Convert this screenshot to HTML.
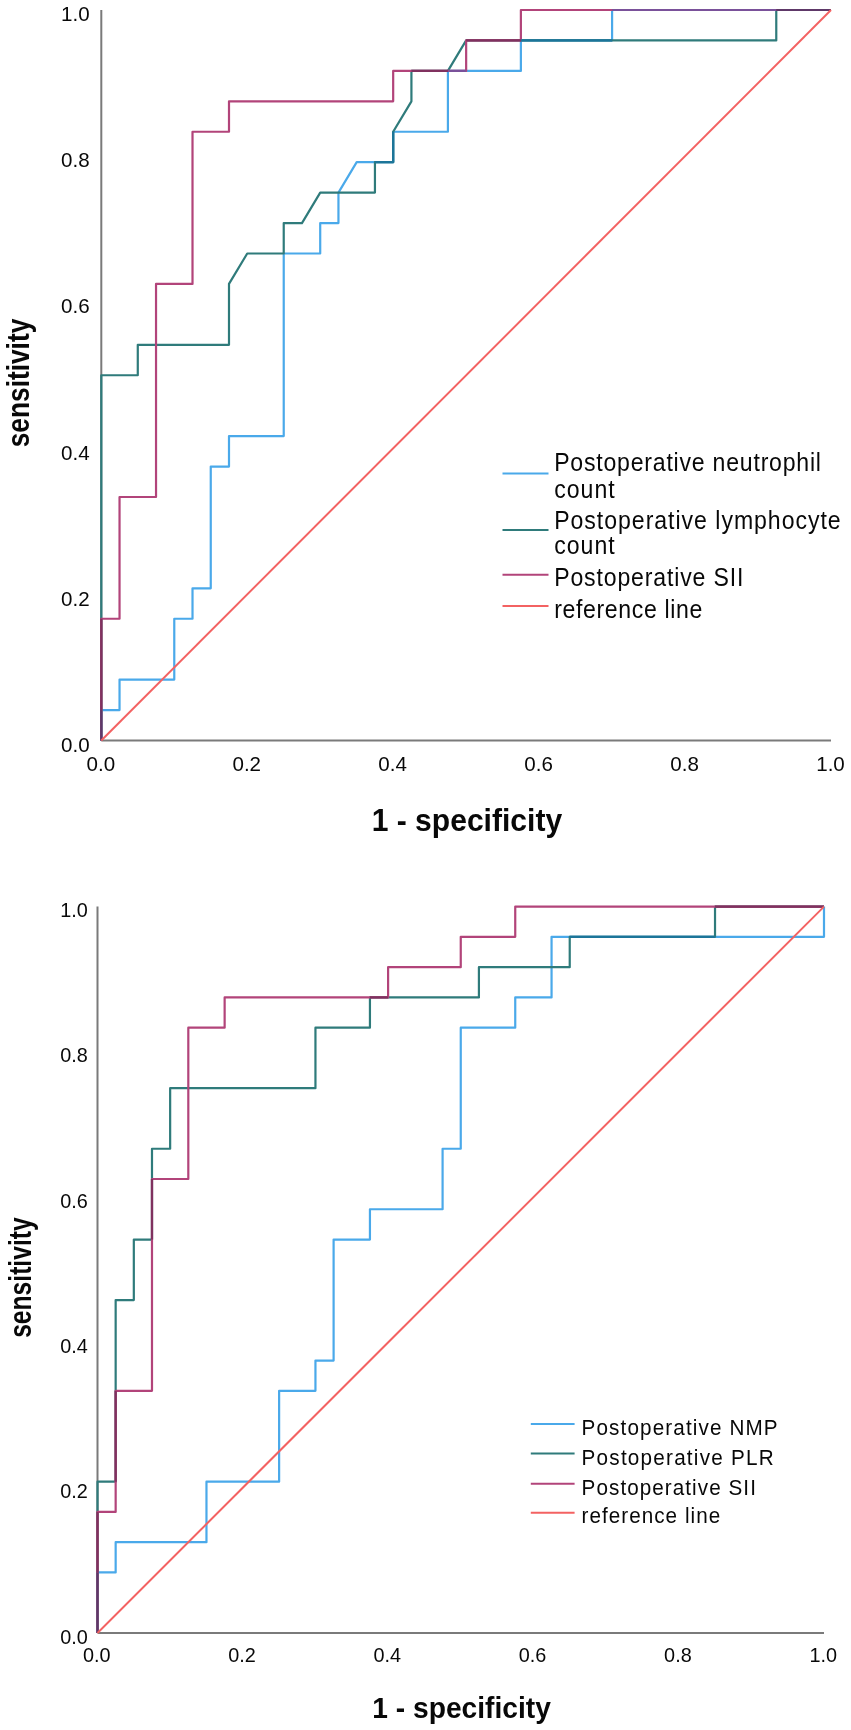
<!DOCTYPE html>
<html><head><meta charset="utf-8"><title>ROC curves</title>
<style>html,body{margin:0;padding:0;background:#fff;width:851px;height:1730px;overflow:hidden;font-family:"Liberation Sans", sans-serif;}
svg text{font-family:"Liberation Sans", sans-serif;}</style></head>
<body>
<svg width="851" height="1730" viewBox="0 0 851 1730" style="display:block;filter:blur(0.4px);font-family:'Liberation Sans', sans-serif;fill:#080808">
<rect width="851" height="1730" fill="#ffffff"/>
<line x1="101.30" y1="10.00" x2="101.30" y2="740.50" stroke="#7a7a7a" stroke-width="2.0"/>
<line x1="101.30" y1="740.50" x2="831.00" y2="740.50" stroke="#7a7a7a" stroke-width="2.0"/>
<text x="89.60" y="751.70" font-size="20.3" text-anchor="end" textLength="28.6" lengthAdjust="spacingAndGlyphs">0.0</text>
<text x="100.80" y="771.40" font-size="20.3" text-anchor="middle" textLength="28.6" lengthAdjust="spacingAndGlyphs">0.0</text>
<text x="89.60" y="605.60" font-size="20.3" text-anchor="end" textLength="28.6" lengthAdjust="spacingAndGlyphs">0.2</text>
<text x="246.74" y="771.40" font-size="20.3" text-anchor="middle" textLength="28.6" lengthAdjust="spacingAndGlyphs">0.2</text>
<text x="89.60" y="459.50" font-size="20.3" text-anchor="end" textLength="28.6" lengthAdjust="spacingAndGlyphs">0.4</text>
<text x="392.68" y="771.40" font-size="20.3" text-anchor="middle" textLength="28.6" lengthAdjust="spacingAndGlyphs">0.4</text>
<text x="89.60" y="313.40" font-size="20.3" text-anchor="end" textLength="28.6" lengthAdjust="spacingAndGlyphs">0.6</text>
<text x="538.62" y="771.40" font-size="20.3" text-anchor="middle" textLength="28.6" lengthAdjust="spacingAndGlyphs">0.6</text>
<text x="89.60" y="167.30" font-size="20.3" text-anchor="end" textLength="28.6" lengthAdjust="spacingAndGlyphs">0.8</text>
<text x="684.56" y="771.40" font-size="20.3" text-anchor="middle" textLength="28.6" lengthAdjust="spacingAndGlyphs">0.8</text>
<text x="89.60" y="21.20" font-size="20.3" text-anchor="end" textLength="28.6" lengthAdjust="spacingAndGlyphs">1.0</text>
<text x="830.50" y="771.40" font-size="20.3" text-anchor="middle" textLength="28.6" lengthAdjust="spacingAndGlyphs">1.0</text>
<text x="466.90" y="831.20" font-size="30.5" font-weight="bold" text-anchor="middle" textLength="190.5" lengthAdjust="spacingAndGlyphs">1 - specificity</text>
<text transform="translate(29.00,383.00) rotate(-90)" font-size="31" font-weight="bold" text-anchor="middle" textLength="128.5" lengthAdjust="spacingAndGlyphs">sensitivity</text>
<path d="M101.30,740.50 L101.30,710.06 L119.54,710.06 L119.54,679.62 L174.27,679.62 L174.27,618.75 L192.51,618.75 L192.51,588.31 L210.75,588.31 L210.75,466.56 L229.00,466.56 L229.00,436.12 L283.73,436.12 L283.73,253.50 L320.21,253.50 L320.21,223.06 L338.45,223.06 L338.45,192.62 L356.70,162.19 L393.18,162.19 L393.18,131.75 L447.91,131.75 L447.91,70.88 L520.88,70.88 L520.88,40.44 L612.09,40.44 L612.09,10.00 L831.00,10.00" fill="none" stroke="#4aa9ea" stroke-width="2.2" stroke-linejoin="round"/>
<path d="M101.30,740.50 L101.30,375.25 L137.78,375.25 L137.78,344.81 L229.00,344.81 L229.00,283.94 L247.24,253.50 L283.73,253.50 L283.73,223.06 L301.97,223.06 L320.21,192.62 L374.94,192.62 L374.94,162.19 L393.18,162.19 L393.18,131.75 L411.42,101.31 L411.42,70.88 L447.91,70.88 L466.15,40.44 L776.27,40.44 L776.27,10.00 L831.00,10.00" fill="none" stroke="#2f7b7b" stroke-width="2.2" stroke-linejoin="round"/>
<path d="M101.30,740.50 L101.30,618.75 L119.54,618.75 L119.54,497.00 L156.03,497.00 L156.03,283.94 L192.51,283.94 L192.51,131.75 L229.00,131.75 L229.00,101.31 L393.18,101.31 L393.18,70.88 L466.15,70.88 L466.15,40.44 L520.88,40.44 L520.88,10.00 L831.00,10.00" fill="none" stroke="#b2447a" stroke-width="2.2" stroke-linejoin="round"/>
<path d="M101.30,740.50 L101.30,710.06" fill="none" stroke="#5e3868" stroke-width="2.2" stroke-linejoin="round"/>
<path d="M374.94,162.19 L393.18,162.19 L393.18,131.75" fill="none" stroke="#1c7599" stroke-width="2.2" stroke-linejoin="round"/>
<path d="M447.91,70.88 L466.15,70.88" fill="none" stroke="#7a519a" stroke-width="2.2" stroke-linejoin="round"/>
<path d="M520.88,40.44 L539.12,40.44 L557.36,40.44 L575.61,40.44 L593.85,40.44 L612.09,40.44" fill="none" stroke="#1c7599" stroke-width="2.2" stroke-linejoin="round"/>
<path d="M612.09,10.00 L630.33,10.00 L648.57,10.00 L666.82,10.00 L685.06,10.00 L703.30,10.00 L721.55,10.00 L739.79,10.00 L758.03,10.00 L776.27,10.00" fill="none" stroke="#7a519a" stroke-width="2.2" stroke-linejoin="round"/>
<path d="M776.27,10.00 L794.51,10.00 L812.76,10.00 L831.00,10.00" fill="none" stroke="#5e3868" stroke-width="2.2" stroke-linejoin="round"/>
<path d="M101.30,710.06 L101.30,679.62 L101.30,649.19 L101.30,618.75" fill="none" stroke="#80315f" stroke-width="2.2" stroke-linejoin="round"/>
<path d="M411.42,70.88 L429.67,70.88 L447.91,70.88" fill="none" stroke="#80315f" stroke-width="2.2" stroke-linejoin="round"/>
<path d="M466.15,40.44 L484.39,40.44 L502.64,40.44 L520.88,40.44" fill="none" stroke="#80315f" stroke-width="2.2" stroke-linejoin="round"/>
<line x1="101.30" y1="740.50" x2="831.00" y2="10.00" stroke="#f36262" stroke-width="2.0"/>
<line x1="502.50" y1="473.40" x2="548.50" y2="473.40" stroke="#4aa9ea" stroke-width="2.0"/>
<text transform="translate(554.20,471.40) scale(0.915,1)" font-size="25.2" textLength="291.58" lengthAdjust="spacing">Postoperative neutrophil</text>
<text transform="translate(554.20,498.30) scale(0.915,1)" font-size="25.2" textLength="66.12" lengthAdjust="spacing">count</text>
<line x1="502.50" y1="529.90" x2="548.50" y2="529.90" stroke="#2f7b7b" stroke-width="2.0"/>
<text transform="translate(554.20,529.00) scale(0.915,1)" font-size="25.2" textLength="313.11" lengthAdjust="spacing">Postoperative lymphocyte</text>
<text transform="translate(554.20,554.40) scale(0.915,1)" font-size="25.2" textLength="66.12" lengthAdjust="spacing">count</text>
<line x1="502.50" y1="574.70" x2="548.50" y2="574.70" stroke="#b2447a" stroke-width="2.0"/>
<text transform="translate(554.20,586.20) scale(0.915,1)" font-size="25.2" textLength="206.78" lengthAdjust="spacing">Postoperative SII</text>
<line x1="502.50" y1="605.90" x2="548.50" y2="605.90" stroke="#f36262" stroke-width="2.0"/>
<text transform="translate(554.20,617.60) scale(0.915,1)" font-size="25.2" textLength="161.97" lengthAdjust="spacing">reference line</text>
<line x1="97.50" y1="906.60" x2="97.50" y2="1633.00" stroke="#7a7a7a" stroke-width="2.0"/>
<line x1="97.50" y1="1633.00" x2="824.00" y2="1633.00" stroke="#7a7a7a" stroke-width="2.0"/>
<text x="87.80" y="1643.60" font-size="20.3" text-anchor="end" textLength="27.6" lengthAdjust="spacingAndGlyphs">0.0</text>
<text x="96.70" y="1662.20" font-size="20.3" text-anchor="middle" textLength="27.6" lengthAdjust="spacingAndGlyphs">0.0</text>
<text x="87.80" y="1498.32" font-size="20.3" text-anchor="end" textLength="27.6" lengthAdjust="spacingAndGlyphs">0.2</text>
<text x="242.00" y="1662.20" font-size="20.3" text-anchor="middle" textLength="27.6" lengthAdjust="spacingAndGlyphs">0.2</text>
<text x="87.80" y="1353.04" font-size="20.3" text-anchor="end" textLength="27.6" lengthAdjust="spacingAndGlyphs">0.4</text>
<text x="387.30" y="1662.20" font-size="20.3" text-anchor="middle" textLength="27.6" lengthAdjust="spacingAndGlyphs">0.4</text>
<text x="87.80" y="1207.76" font-size="20.3" text-anchor="end" textLength="27.6" lengthAdjust="spacingAndGlyphs">0.6</text>
<text x="532.60" y="1662.20" font-size="20.3" text-anchor="middle" textLength="27.6" lengthAdjust="spacingAndGlyphs">0.6</text>
<text x="87.80" y="1062.48" font-size="20.3" text-anchor="end" textLength="27.6" lengthAdjust="spacingAndGlyphs">0.8</text>
<text x="677.90" y="1662.20" font-size="20.3" text-anchor="middle" textLength="27.6" lengthAdjust="spacingAndGlyphs">0.8</text>
<text x="87.80" y="917.20" font-size="20.3" text-anchor="end" textLength="27.6" lengthAdjust="spacingAndGlyphs">1.0</text>
<text x="823.20" y="1662.20" font-size="20.3" text-anchor="middle" textLength="27.6" lengthAdjust="spacingAndGlyphs">1.0</text>
<text x="461.60" y="1717.60" font-size="29.5" font-weight="bold" text-anchor="middle" textLength="178.5" lengthAdjust="spacingAndGlyphs">1 - specificity</text>
<text transform="translate(30.60,1277.60) rotate(-90)" font-size="31" font-weight="bold" text-anchor="middle" textLength="120.5" lengthAdjust="spacingAndGlyphs">sensitivity</text>
<path d="M97.50,1633.00 L97.50,1572.47 L115.66,1572.47 L115.66,1542.20 L206.47,1542.20 L206.47,1481.67 L279.12,1481.67 L279.12,1390.87 L315.45,1390.87 L315.45,1360.60 L333.61,1360.60 L333.61,1239.53 L369.94,1239.53 L369.94,1209.27 L442.59,1209.27 L442.59,1148.73 L460.75,1148.73 L460.75,1027.67 L515.24,1027.67 L515.24,997.40 L551.56,997.40 L551.56,936.87 L824.00,936.87 L824.00,906.60" fill="none" stroke="#4aa9ea" stroke-width="2.2" stroke-linejoin="round"/>
<path d="M97.50,1633.00 L97.50,1481.67 L115.66,1481.67 L115.66,1300.07 L133.82,1300.07 L133.82,1239.53 L151.99,1239.53 L151.99,1148.73 L170.15,1148.73 L170.15,1088.20 L315.45,1088.20 L315.45,1027.67 L369.94,1027.67 L369.94,997.40 L478.91,997.40 L478.91,967.13 L569.73,967.13 L569.73,936.87 L715.02,936.87 L715.02,906.60 L824.00,906.60" fill="none" stroke="#2f7b7b" stroke-width="2.2" stroke-linejoin="round"/>
<path d="M97.50,1633.00 L97.50,1511.93 L115.66,1511.93 L115.66,1390.87 L151.99,1390.87 L151.99,1179.00 L188.31,1179.00 L188.31,1027.67 L224.64,1027.67 L224.64,997.40 L388.10,997.40 L388.10,967.13 L460.75,967.13 L460.75,936.87 L515.24,936.87 L515.24,906.60 L824.00,906.60" fill="none" stroke="#b2447a" stroke-width="2.2" stroke-linejoin="round"/>
<path d="M97.50,1633.00 L97.50,1602.73 L97.50,1572.47" fill="none" stroke="#5e3868" stroke-width="2.2" stroke-linejoin="round"/>
<path d="M569.73,936.87 L587.89,936.87 L606.05,936.87 L624.21,936.87 L642.38,936.87 L660.54,936.87 L678.70,936.87 L696.86,936.87 L715.02,936.87" fill="none" stroke="#1c7599" stroke-width="2.2" stroke-linejoin="round"/>
<path d="M97.50,1572.47 L97.50,1542.20 L97.50,1511.93" fill="none" stroke="#80315f" stroke-width="2.2" stroke-linejoin="round"/>
<path d="M115.66,1481.67 L115.66,1451.40 L115.66,1421.13 L115.66,1390.87" fill="none" stroke="#80315f" stroke-width="2.2" stroke-linejoin="round"/>
<path d="M151.99,1239.53 L151.99,1209.27 L151.99,1179.00" fill="none" stroke="#80315f" stroke-width="2.2" stroke-linejoin="round"/>
<path d="M369.94,997.40 L388.10,997.40" fill="none" stroke="#80315f" stroke-width="2.2" stroke-linejoin="round"/>
<path d="M715.02,906.60 L733.19,906.60 L751.35,906.60 L769.51,906.60 L787.67,906.60 L805.84,906.60 L824.00,906.60" fill="none" stroke="#80315f" stroke-width="2.2" stroke-linejoin="round"/>
<line x1="97.50" y1="1633.00" x2="824.00" y2="906.60" stroke="#f36262" stroke-width="2.0"/>
<line x1="530.80" y1="1424.00" x2="574.60" y2="1424.00" stroke="#4aa9ea" stroke-width="2.0"/>
<text transform="translate(581.60,1434.80) scale(0.92,1)" font-size="22.5" textLength="213.04" lengthAdjust="spacing">Postoperative NMP</text>
<line x1="530.80" y1="1453.50" x2="574.60" y2="1453.50" stroke="#2f7b7b" stroke-width="2.0"/>
<text transform="translate(581.60,1465.20) scale(0.92,1)" font-size="22.5" textLength="208.70" lengthAdjust="spacing">Postoperative PLR</text>
<line x1="530.80" y1="1483.70" x2="574.60" y2="1483.70" stroke="#b2447a" stroke-width="2.0"/>
<text transform="translate(581.60,1494.60) scale(0.92,1)" font-size="22.5" textLength="189.46" lengthAdjust="spacing">Postoperative SII</text>
<line x1="530.80" y1="1512.80" x2="574.60" y2="1512.80" stroke="#f36262" stroke-width="2.0"/>
<text transform="translate(581.60,1523.40) scale(0.92,1)" font-size="22.5" textLength="150.65" lengthAdjust="spacing">reference line</text>
</svg>
</body></html>
